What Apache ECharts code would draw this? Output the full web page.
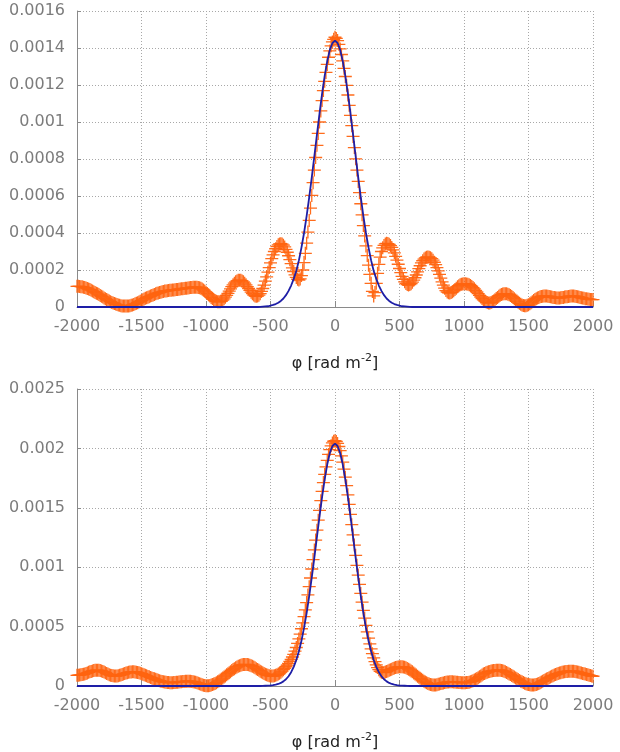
<!DOCTYPE html>
<html>
<head>
<meta charset="utf-8">
<script src="https://cdn.jsdelivr.net/npm/echarts@6/dist/echarts.min.js"></script>
<style>
  html, body { margin: 0; padding: 0; background: #ffffff; }
  #chart { width: 620px; height: 752px; }
</style>
</head>
<body>
<div id="chart"></div>
<script>
// Faraday depth spectra: measured amplitude (+) and Gaussian clean beam (line).
// Amplitudes are stored in units of 1e-6.
const UNIT = 1e-6;
const PHI_START = -2000;
const PHI_STEP = 10;

// Upper panel, measured amplitude from phi = -2000 to 2000 (step 10)
const rmTop = [
  112,112,111,110,109,107,105,103,100,97,
  94,91,87,83,79,75,71,67,62,58,
  54,49,45,41,37,33,29,25,22,19,
  16,13,11,9,7,6,5,5,5,5,
  6,7,9,11,14,17,20,23,27,31,
  35,39,43,47,50,53,56,59,62,65,
  68,71,74,76,78,80,82,84,86,87,
  88,89,90,91,92,92,93,94,95,96,
  97,98,99,100,101,102,103,104,105,106,
  107,107,107,107,106,104,101,97,92,86,
  80,73,66,59,52,46,40,35,31,29,
  28,29,32,37,44,53,63,74,86,98,
  110,120,129,136,141,144,145,144,141,136,
  129,120,110,100,90,80,72,65,60,58,
  59,64,72,84,100,118,140,163,188,213,
  238,261,282,300,315,327,336,341,342,340,
  334,325,312,296,277,256,234,212,192,174,
  160,150,146,152,170,200,240,290,345,405,
  468,535,603,672,740,808,874,938,1000,1060,
  1116,1170,1220,1268,1311,1350,1384,1412,1433,1447,
  1458,
  1452,1440,1420,1395,1365,1330,1290,1246,1198,1146,
  1090,1036,980,922,862,801,740,679,618,558,
  498,440,384,330,278,226,176,128,84,60,
  78,128,182,230,270,300,320,333,341,344,
  343,339,332,322,309,293,274,253,231,208,
  186,166,149,136,127,121,119,121,126,134,
  145,158,173,190,207,223,238,250,259,265,
  269,270,269,266,261,253,242,229,213,195,
  176,156,136,118,102,89,81,77,76,78,
  82,88,95,102,109,115,120,123,125,126,
  126,125,123,120,116,111,105,98,90,81,
  72,63,54,46,39,33,28,24,22,22,
  24,28,33,39,46,52,58,63,67,70,
  72,72,71,69,66,62,57,51,45,38,
  32,26,20,15,11,8,7,7,9,12,
  17,23,29,35,40,45,49,52,55,57,
  58,59,59,59,58,57,55,54,52,51,
  50,49,49,49,50,51,52,54,55,56,
  57,58,59,59,59,58,57,56,54,52,
  50,48,47,45,44,43,42,41,40,40
];

// Lower panel, measured amplitude from phi = -2000 to 2000 (step 10)
const rmBottom = [
  90,91,92,94,96,99,102,106,110,115,
  119,123,127,130,132,133,133,132,130,127,
  123,118,112,106,100,95,91,88,86,84,
  84,85,87,90,93,97,101,105,109,112,
  115,117,118,119,119,118,116,114,111,107,
  103,99,95,90,86,81,77,72,68,64,
  60,56,52,48,44,41,38,35,33,31,
  30,29,28,28,28,29,30,31,32,34,
  35,36,37,38,39,40,40,40,39,38,
  36,34,31,27,23,19,15,11,7,4,
  2,2,3,5,8,12,17,22,28,35,
  42,50,58,67,76,85,94,103,112,121,
  130,138,146,153,160,166,171,175,178,180,
  181,181,180,178,175,171,166,160,153,146,
  139,132,125,118,111,105,99,94,90,87,
  85,84,84,86,90,95,101,108,116,126,
  137,149,162,176,191,207,224,244,267,294,
  324,358,396,437,482,531,584,641,702,767,
  836,909,985,1064,1145,1228,1312,1396,1479,1560,
  1638,1712,1781,1844,1900,1949,1990,2022,2046,2060,
  2065,
  2058,2042,2016,1981,1937,1885,1825,1758,1686,1609,
  1528,1444,1358,1272,1186,1100,1016,934,855,779,
  706,637,572,511,455,403,355,312,272,236,
  205,178,155,137,124,116,113,114,117,122,
  127,132,137,142,147,151,155,158,160,161,
  162,161,160,157,153,148,142,135,127,119,
  110,101,92,83,74,65,57,49,41,34,
  28,22,17,13,10,8,8,9,11,14,
  17,20,23,26,29,31,33,34,35,35,
  35,34,33,32,31,30,29,28,28,28,
  28,29,30,32,35,39,44,50,56,63,
  70,78,85,93,100,106,111,116,120,123,
  126,128,130,131,132,133,133,133,131,128,
  124,119,114,108,102,96,89,82,75,68,
  61,54,47,41,35,29,24,19,15,12,
  10,8,8,8,10,13,17,22,28,34,
  40,46,52,58,64,70,76,82,87,92,
  97,101,105,109,112,115,118,120,122,123,
  124,125,125,125,124,122,120,118,115,112,
  109,106,103,100,97,94,91,88,85,82
];

// Clean-beam curves
const fitPhi = [
  -2000,
  -600,-580,-560,-540,-520,-500,-480,-460,-440,-420,
  -400,-380,-360,-340,-320,-300,-280,-260,-240,-220,
  -200,-180,-160,-140,-120,-100,-80,-60,-40,-20,
  0,
  20,40,60,80,100,120,140,160,180,200,
  220,240,260,280,300,320,340,360,380,400,
  420,440,460,480,500,520,540,560,580,600,
  2000
];
const fitTop = [
  0,
  0,1,2,3,4,7,11,16,23,33,
  46,64,87,116,152,195,252,321,400,491,
  592,701,815,932,1046,1153,1249,1329,1390,1427,
  1440,
  1427,1390,1329,1249,1153,1046,932,815,701,592,
  491,400,321,252,195,152,116,87,64,46,
  33,23,16,11,7,4,3,2,1,0,
  0
];
const fitBottom = [
  0,
  0,0,1,2,3,4,7,11,17,26,
  39,57,82,116,161,219,292,381,489,614,
  757,914,1081,1255,1427,1592,1740,1866,1961,2020,
  2040,
  2020,1961,1866,1740,1592,1427,1255,1081,914,757,
  614,489,381,292,219,161,116,82,57,39,
  26,17,11,7,4,3,2,1,0,0,
  0
];

const X_MIN = -2000, X_MAX = 2000, X_STEP = 500;
const TOP_MAX = 0.0016, TOP_STEP = 0.0002;
const BOTTOM_MAX = 0.0025, BOTTOM_STEP = 0.0005;

const phi = rmTop.map((_, i) => PHI_START + i * PHI_STEP);
const pairs = (xs, ys) => xs.map((x, i) => [x, ys[i] * UNIT]);

const FONT = 'DejaVu Sans';
const LABEL_GREY = '#7c7c7c';
const GRID_GREY = '#a8a8a8';
const ORANGE = '#ff6410';
const NAVY = '#1e1ea6';
const PLUS = 'path://M0,6.3h14v1.4h-14z M6.3,0h1.4v14h-1.4z';

function xAxisFor(gridIndex) {
  return {
    type: 'value', gridIndex, min: X_MIN, max: X_MAX, interval: X_STEP,
    name: '{t|φ [rad m}{s|-2}{t|]}',
    nameLocation: 'middle', nameGap: 46,
    nameTextStyle: {
      rich: {
        t: { fontFamily: FONT, fontSize: 16, color: '#222222', lineHeight: 22 },
        s: { fontFamily: FONT, fontSize: 11, color: '#222222', verticalAlign: 'top', lineHeight: 22 }
      }
    },
    axisLine: { show: true, onZero: false, lineStyle: { color: '#8a8a8a', width: 1 } },
    axisTick: { show: true, inside: true, length: 6, lineStyle: { color: '#8a8a8a' } },
    axisLabel: { fontFamily: FONT, fontSize: 16, color: LABEL_GREY, margin: 12,
                 formatter: v => String(v) },
    splitLine: { show: true, lineStyle: { color: GRID_GREY, type: [1, 2], width: 1 } }
  };
}
function yAxisFor(gridIndex, max, step) {
  return {
    type: 'value', gridIndex, min: 0, max, interval: step,
    axisLine: { show: true, onZero: false, lineStyle: { color: '#8a8a8a', width: 1 } },
    axisTick: { show: true, inside: true, length: 4, lineStyle: { color: '#8a8a8a' } },
    axisLabel: { fontFamily: FONT, fontSize: 16, color: LABEL_GREY, margin: 12,
                 formatter: v => v === 0 ? '0' : String(+v.toFixed(6)) },
    splitLine: { show: true, lineStyle: { color: GRID_GREY, type: [1, 2], width: 1 } }
  };
}
function measured(idx, ys) {
  return {
    type: 'scatter', xAxisIndex: idx, yAxisIndex: idx, data: pairs(phi, ys),
    symbol: PLUS, symbolSize: [13, 13], clip: false, z: 2,
    itemStyle: { color: ORANGE, opacity: 0.95 }
  };
}
function beam(idx, ys) {
  return {
    type: 'line', xAxisIndex: idx, yAxisIndex: idx, data: pairs(fitPhi, ys),
    showSymbol: false, symbol: 'none', z: 3,
    lineStyle: { color: NAVY, width: 1.8 }
  };
}

const chart = echarts.init(document.getElementById('chart'), null, { renderer: 'canvas' });
chart.setOption({
  animation: false,
  backgroundColor: '#ffffff',
  grid: [
    { left: 77, right: 27, top: 11, height: 296 },
    { left: 77, right: 27, top: 389, height: 297 }
  ],
  xAxis: [xAxisFor(0), xAxisFor(1)],
  yAxis: [yAxisFor(0, TOP_MAX, TOP_STEP), yAxisFor(1, BOTTOM_MAX, BOTTOM_STEP)],
  series: [
    measured(0, rmTop), beam(0, fitTop),
    measured(1, rmBottom), beam(1, fitBottom)
  ]
});
</script>
</body>
</html>
